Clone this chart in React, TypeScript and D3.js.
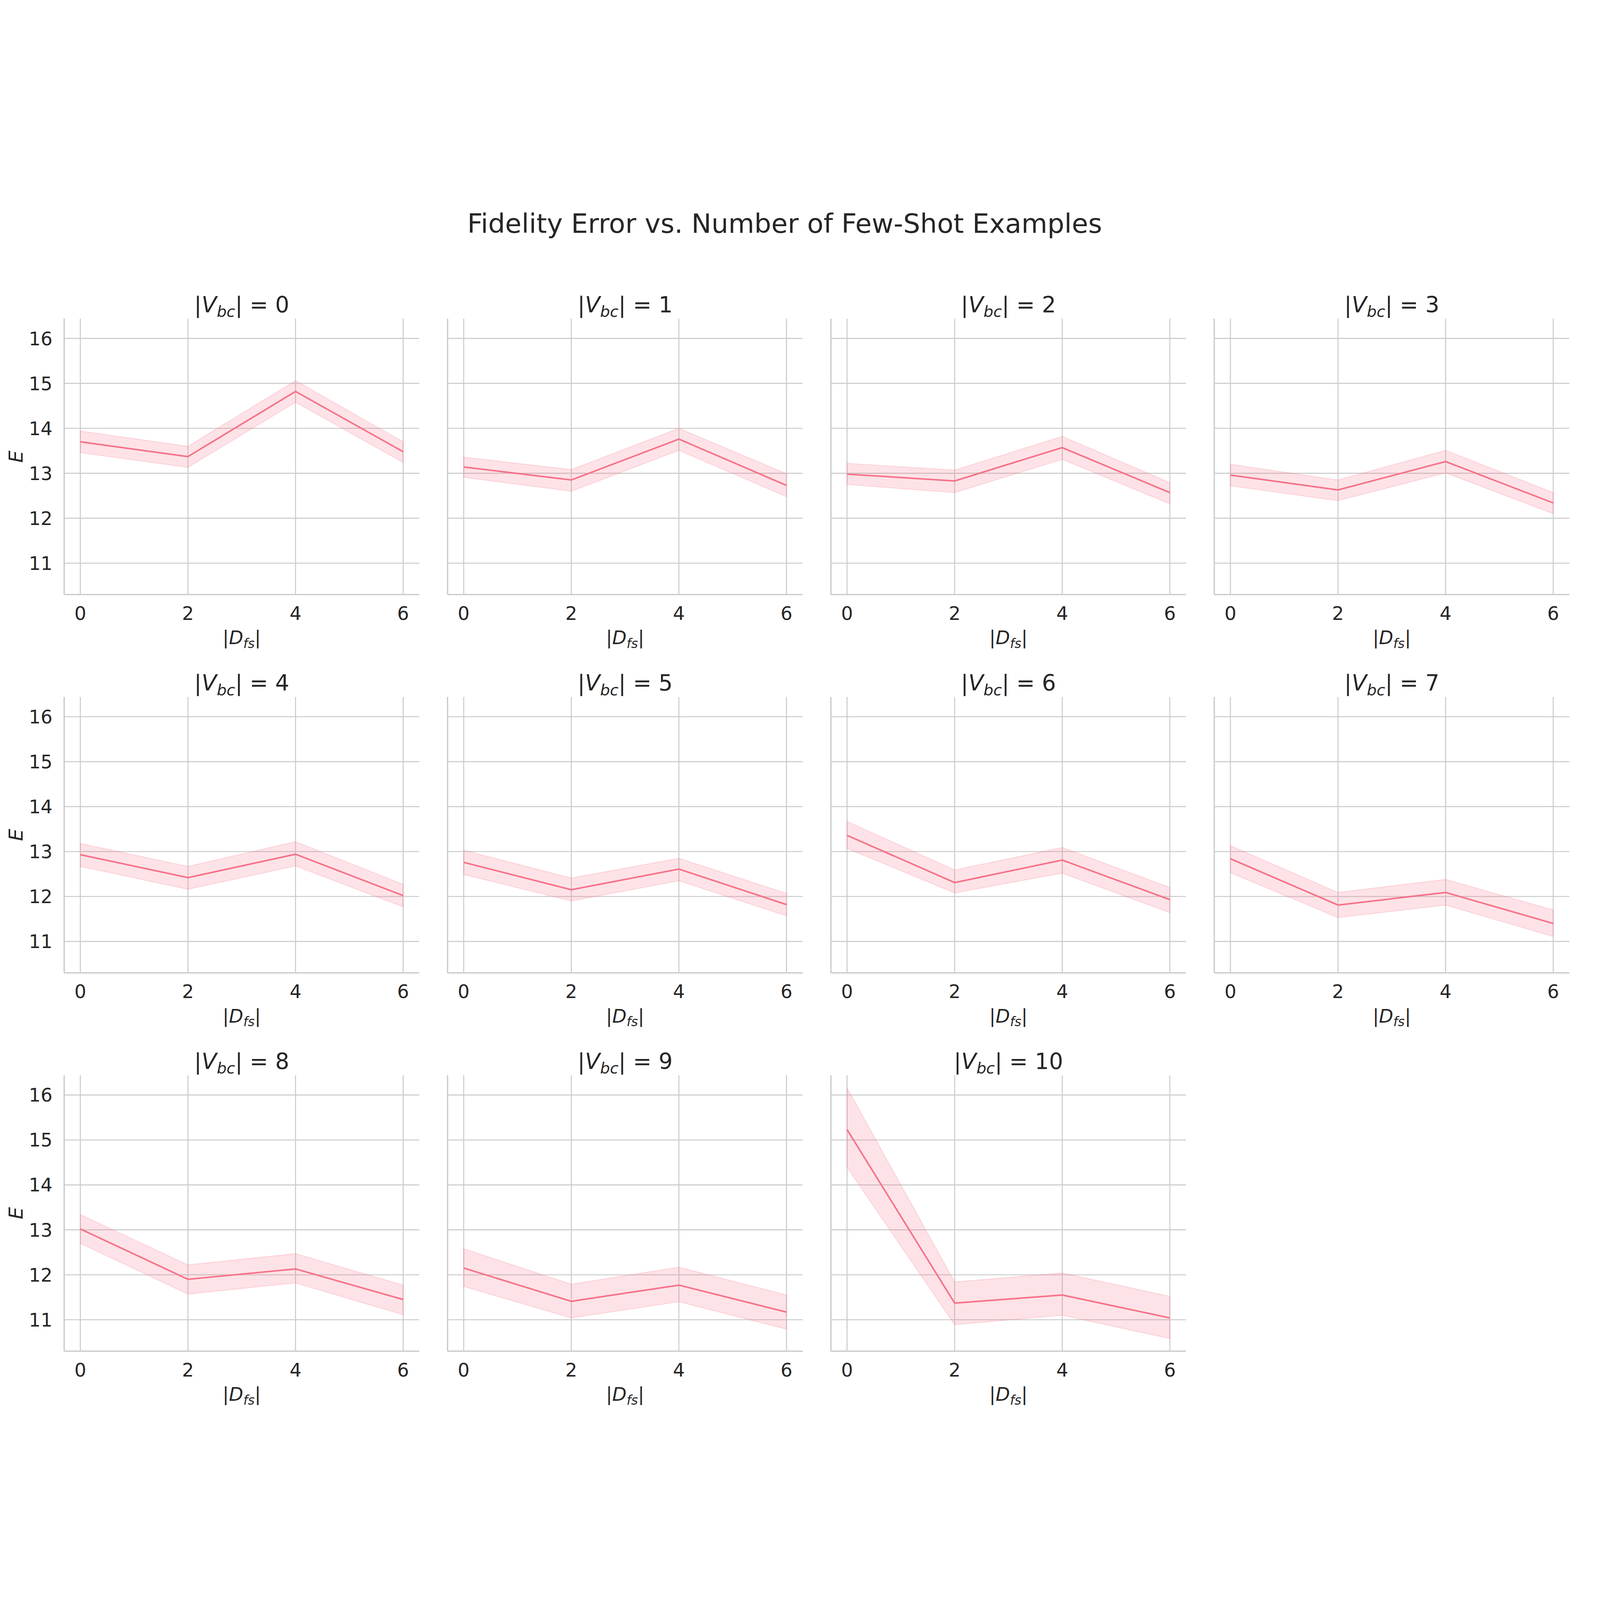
import { useEffect, useRef } from 'react';
import * as d3 from 'd3';

// |D_fs| values on the x axis
const fewShotCounts = [0, 2, 4, 6];
// one facet per |V_bc|
const vbcSizes = [0, 1, 2, 3, 4, 5, 6, 7, 8, 9, 10];

// mean fidelity error E per facet
const meanError = [
  [13.70, 13.37, 14.82, 13.48],
  [13.14, 12.85, 13.76, 12.73],
  [12.98, 12.83, 13.57, 12.57],
  [12.96, 12.63, 13.26, 12.34],
  [12.93, 12.42, 12.94, 12.02],
  [12.76, 12.15, 12.61, 11.82],
  [13.36, 12.31, 12.81, 11.93],
  [12.84, 11.81, 12.09, 11.40],
  [13.02, 11.90, 12.13, 11.45],
  [12.15, 11.41, 11.77, 11.17],
  [15.23, 11.37, 11.55, 11.04],
];

// confidence band, lower edge
const ciLower = [
  [13.46, 13.13, 14.58, 13.24],
  [12.91, 12.60, 13.51, 12.48],
  [12.75, 12.57, 13.31, 12.32],
  [12.72, 12.39, 13.01, 12.10],
  [12.67, 12.16, 12.68, 11.77],
  [12.49, 11.90, 12.35, 11.57],
  [13.07, 12.08, 12.52, 11.64],
  [12.53, 11.53, 11.81, 11.11],
  [12.70, 11.57, 11.82, 11.11],
  [11.74, 11.04, 11.40, 10.79],
  [14.39, 10.89, 11.10, 10.58],
];

// confidence band, upper edge
const ciUpper = [
  [13.94, 13.60, 15.06, 13.70],
  [13.36, 13.08, 14.00, 12.99],
  [13.22, 13.07, 13.82, 12.79],
  [13.20, 12.85, 13.51, 12.57],
  [13.18, 12.67, 13.22, 12.27],
  [13.03, 12.41, 12.85, 12.07],
  [13.67, 12.59, 13.09, 12.20],
  [13.13, 12.09, 12.38, 11.70],
  [13.34, 12.22, 12.47, 11.77],
  [12.58, 11.79, 12.17, 11.55],
  [16.16, 11.84, 12.04, 11.52],
];

const yTickValues = [11, 12, 13, 14, 15, 16];
const xTickValues = [0, 2, 4, 6];

// drawing units: the reference at ~1/3.93 scale, stretched to the window by the viewBox
const W = 1545.5;
const H = W * 4519 / 6074;

const FONT = '"DejaVu Sans", sans-serif';
const TEXT = '#262626';
const GRID = '#cccccc';
const LINE = '#f77189';

type Part = { t: string; italic?: boolean; sub?: boolean };

// crude mathtext: italic letters and lowered subscripts via tspans
function appendMath(text: d3.Selection<SVGTextElement, unknown, null, undefined>, parts: Part[], fontSize: number) {
  let shifted = 0;
  parts.forEach(p => {
    const span = text.append('tspan').text(p.t);
    if (p.italic) span.attr('font-style', 'italic');
    if (p.sub) {
      const drop = fontSize * 0.2;
      span.attr('font-size', fontSize * 0.7).attr('dy', drop - shifted);
      shifted = drop;
    } else if (shifted) {
      span.attr('dy', -shifted);
      shifted = 0;
    }
  });
}

export default function App() {
  const svgRef = useRef<SVGSVGElement>(null);

  useEffect(() => {
    if (!svgRef.current) return;
    const svg = d3.select(svgRef.current);
    svg.selectAll('*').remove();

    svg.append('rect').attr('width', W).attr('height', H).attr('fill', '#ffffff');

    svg.append('text')
      .attr('x', 758)
      .attr('y', 27)
      .attr('text-anchor', 'middle')
      .attr('font-family', FONT)
      .attr('font-size', 25.8)
      .attr('fill', TEXT)
      .text('Fidelity Error vs. Number of Few-Shot Examples');

    // shared axes, matplotlib style 5% margins
    const lo = d3.min(ciLower.flat()) as number;
    const hi = d3.max(ciUpper.flat()) as number;
    const yPad = (hi - lo) * 0.05;
    const xExt = d3.extent(fewShotCounts) as [number, number];
    const xPad = (xExt[1] - xExt[0]) * 0.05;

    const panelW = 343;
    const panelH = 266.5;
    const colStep = 370.3;
    const rowStep = 365.4;

    const x = d3.scaleLinear().domain([xExt[0] - xPad, xExt[1] + xPad]).range([0, panelW]);
    const y = d3.scaleLinear().domain([lo - yPad, hi + yPad]).range([panelH, 0]);

    vbcSizes.forEach((vbc, i) => {
      const col = i % 4;
      const row = Math.floor(i / 4);
      const g = svg.append('g')
        .attr('transform', `translate(${62 + col * colStep}, ${110 + row * rowStep})`);

      // grid
      g.selectAll('.vgrid')
        .data(xTickValues)
        .enter()
        .append('line')
        .attr('x1', d => x(d))
        .attr('x2', d => x(d))
        .attr('y1', 0)
        .attr('y2', panelH)
        .attr('stroke', GRID)
        .attr('stroke-width', 1);
      g.selectAll('.hgrid')
        .data(yTickValues)
        .enter()
        .append('line')
        .attr('x1', 0)
        .attr('x2', panelW)
        .attr('y1', d => y(d))
        .attr('y2', d => y(d))
        .attr('stroke', GRID)
        .attr('stroke-width', 1);

      const pts = fewShotCounts.map((n, j) => ({
        n,
        m: meanError[i][j],
        l: ciLower[i][j],
        u: ciUpper[i][j],
      }));

      const band = d3.area<typeof pts[number]>()
        .x(d => x(d.n))
        .y0(d => y(d.l))
        .y1(d => y(d.u));
      g.append('path')
        .attr('d', band(pts) || '')
        .attr('fill', LINE)
        .attr('fill-opacity', 0.2)
        .attr('stroke', LINE)
        .attr('stroke-opacity', 0.2)
        .attr('stroke-width', 1);

      const line = d3.line<typeof pts[number]>()
        .x(d => x(d.n))
        .y(d => y(d.m));
      g.append('path')
        .attr('d', line(pts) || '')
        .attr('fill', 'none')
        .attr('stroke', LINE)
        .attr('stroke-width', 1.5);

      // despined: only left + bottom
      g.append('line')
        .attr('x1', 0).attr('x2', 0).attr('y1', 0).attr('y2', panelH)
        .attr('stroke', GRID).attr('stroke-width', 1.3);
      g.append('line')
        .attr('x1', 0).attr('x2', panelW).attr('y1', panelH).attr('y2', panelH)
        .attr('stroke', GRID).attr('stroke-width', 1.3);

      // x tick labels
      g.selectAll('.xt')
        .data(xTickValues)
        .enter()
        .append('text')
        .attr('x', d => x(d))
        .attr('y', panelH + 24.5)
        .attr('text-anchor', 'middle')
        .attr('font-family', FONT)
        .attr('font-size', 18)
        .attr('fill', TEXT)
        .text(d => String(d));

      const xl = g.append('text')
        .attr('x', panelW / 2)
        .attr('y', panelH + 48)
        .attr('text-anchor', 'middle')
        .attr('font-family', FONT)
        .attr('font-size', 18)
        .attr('fill', TEXT);
      appendMath(xl, [{ t: '|' }, { t: 'D', italic: true }, { t: 'fs', italic: true, sub: true }, { t: '|' }], 18);

      if (col === 0) {
        g.selectAll('.yt')
          .data(yTickValues)
          .enter()
          .append('text')
          .attr('x', -11.3)
          .attr('y', d => y(d))
          .attr('dy', '0.36em')
          .attr('text-anchor', 'end')
          .attr('font-family', FONT)
          .attr('font-size', 18)
          .attr('fill', TEXT)
          .text(d => String(d));

        g.append('text')
          .attr('transform', `translate(-40.3, ${panelH / 2}) rotate(-90)`)
          .attr('text-anchor', 'middle')
          .attr('font-family', FONT)
          .attr('font-size', 18.6)
          .attr('font-style', 'italic')
          .attr('fill', TEXT)
          .text('E');
      }

      const title = g.append('text')
        .attr('x', panelW / 2)
        .attr('y', -6)
        .attr('text-anchor', 'middle')
        .attr('font-family', FONT)
        .attr('font-size', 21.4)
        .attr('fill', TEXT);
      appendMath(title, [
        { t: '|' },
        { t: 'V', italic: true },
        { t: 'bc', italic: true, sub: true },
        { t: '|' },
        { t: ` = ${vbc}` },
      ], 21.4);
    });
  }, []);

  return (
    <div style={{ position: 'fixed', left: 0, top: 0, width: '100vw', height: '100vh', background: '#fff', overflow: 'hidden' }}>
      <svg
        ref={svgRef}
        viewBox={`0 0 ${W} ${H}`}
        preserveAspectRatio="xMidYMid meet"
        style={{ display: 'block', width: '100%', height: '100%' }}
      />
    </div>
  );
}
